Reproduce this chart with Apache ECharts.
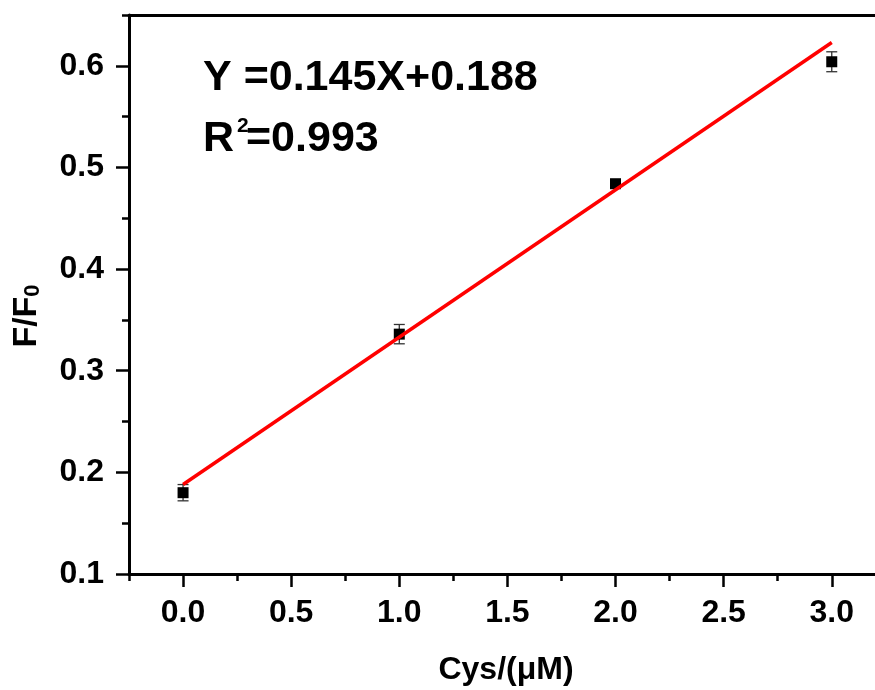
<!DOCTYPE html>
<html>
<head>
<meta charset="utf-8">
<script src="https://cdn.jsdelivr.net/npm/echarts@6/dist/echarts.min.js"></script>
<style>
  html, body { margin: 0; padding: 0; background: #fff; }
  #chart { width: 875px; height: 690px; }
</style>
</head>
<body>
<div id="chart"></div>
<script>
// Cys concentration (µM) and measured F/F0 (mean ± SD)
const cysConc = [0, 1, 2, 3];
const ratioMean = [0.180, 0.336, 0.484, 0.604];
const ratioErr = [0.008, 0.0095, 0.004, 0.0098];

// Linear fit reported on the chart
const fitSlope = 0.145;
const fitIntercept = 0.188;
const fitR2 = 0.993;
const fitRange = [0, 3];

// Axis ticks
const xMajorTicks = [0, 0.5, 1, 1.5, 2, 2.5, 3];
const xMinorTicks = [-0.25, 0.25, 0.75, 1.25, 1.75, 2.25, 2.75];
const yMajorTicks = [0.1, 0.2, 0.3, 0.4, 0.5, 0.6];
const yMinorTicks = [0.15, 0.25, 0.35, 0.45, 0.55, 0.65];

const FONT = '"Liberation Sans", Arial, Helvetica, sans-serif';
const X_MIN = -0.25, X_MAX = 3.2, Y_MIN = 0.1, Y_MAX = 0.65;

const axisLineStyle = { color: '#000', width: 3 };
const majorTickStyle = { color: '#000', width: 2.5 };
const tickLabelStyle = {
  color: '#000', fontSize: 32, fontWeight: 'bold', fontFamily: FONT,
  formatter: v => Number(v).toFixed(1)
};

const points = cysConc.map((x, i) => [x, ratioMean[i]]);
const errBars = cysConc.map((x, i) => [x, ratioMean[i] - ratioErr[i], ratioMean[i] + ratioErr[i]]);
const fitLine = fitRange.map(x => [x, fitIntercept + fitSlope * x]);

const chart = echarts.init(document.getElementById('chart'), null, { renderer: 'canvas' });

chart.setOption({
  animation: false,
  backgroundColor: '#fff',
  grid: { left: 129, right: 0, top: 15, bottom: 116, containLabel: false, outerBoundsMode: 'none' },
  xAxis: [
    {
      type: 'value', min: X_MIN, max: X_MAX, position: 'bottom',
      axisLine: { show: true, onZero: false, lineStyle: axisLineStyle },
      axisTick: { show: true, customValues: xMajorTicks, length: 13, lineStyle: majorTickStyle },
      axisLabel: Object.assign({ customValues: xMajorTicks, margin: 23 }, tickLabelStyle),
      splitLine: { show: false },
      name: 'Cys/(μM)', nameLocation: 'middle', nameGap: 80,
      nameTextStyle: { color: '#000', fontSize: 32, fontWeight: 'bold', fontFamily: FONT, padding: [0, 0, 0, 8] }
    },
    {
      type: 'value', min: X_MIN, max: X_MAX, position: 'bottom',
      axisLine: { show: false, onZero: false },
      axisTick: { show: true, customValues: xMinorTicks, length: 7, lineStyle: majorTickStyle },
      axisLabel: { show: false },
      splitLine: { show: false }
    },
    {
      type: 'value', min: X_MIN, max: X_MAX, position: 'top',
      axisLine: { show: true, onZero: false, lineStyle: axisLineStyle },
      axisTick: { show: false },
      axisLabel: { show: false },
      splitLine: { show: false }
    }
  ],
  yAxis: [
    {
      type: 'value', min: Y_MIN, max: Y_MAX, position: 'left',
      axisLine: { show: true, onZero: false, lineStyle: axisLineStyle },
      axisTick: { show: true, customValues: yMajorTicks, length: 13, lineStyle: majorTickStyle },
      axisLabel: Object.assign({ customValues: yMajorTicks, margin: 25 }, tickLabelStyle),
      splitLine: { show: false }
    },
    {
      type: 'value', min: Y_MIN, max: Y_MAX, position: 'left',
      axisLine: { show: false, onZero: false },
      axisTick: { show: true, customValues: yMinorTicks, length: 7, lineStyle: majorTickStyle },
      axisLabel: { show: false },
      splitLine: { show: false }
    }
  ],
  series: [
    {
      // error bars with caps
      type: 'custom',
      xAxisIndex: 0, yAxisIndex: 0,
      data: errBars,
      encode: { x: 0, y: [1, 2] },
      z: 2,
      renderItem: function (params, api) {
        const x = api.value(0);
        const lo = api.coord([x, api.value(1)]);
        const hi = api.coord([x, api.value(2)]);
        const cap = 5.5;
        const style = { stroke: '#333', lineWidth: 1.3, fill: null };
        return {
          type: 'group',
          children: [
            { type: 'line', shape: { x1: hi[0], y1: hi[1], x2: lo[0], y2: lo[1] }, style: style },
            { type: 'line', shape: { x1: hi[0] - cap, y1: hi[1], x2: hi[0] + cap, y2: hi[1] }, style: style },
            { type: 'line', shape: { x1: lo[0] - cap, y1: lo[1], x2: lo[0] + cap, y2: lo[1] }, style: style }
          ]
        };
      }
    },
    {
      type: 'scatter',
      xAxisIndex: 0, yAxisIndex: 0,
      data: points,
      symbol: 'rect',
      symbolSize: 11,
      itemStyle: { color: '#000', opacity: 1 },
      z: 3
    },
    {
      type: 'line',
      xAxisIndex: 0, yAxisIndex: 0,
      data: fitLine,
      showSymbol: false,
      symbol: 'none',
      lineStyle: { color: '#ff0000', width: 3.5 },
      z: 4
    }
  ],
  graphic: [
    {
      type: 'text', x: 203, y: 78, z: 10,
      style: {
        text: 'Y =' + fitSlope.toFixed(3) + 'X+' + fitIntercept.toFixed(3),
        fontSize: 43, fontWeight: 'bold', fontFamily: FONT, fill: '#000',
        align: 'left', verticalAlign: 'middle'
      }
    },
    {
      type: 'text', x: 203, y: 139, z: 10,
      style: { text: 'R', fontSize: 43, fontWeight: 'bold', fontFamily: FONT, fill: '#000', align: 'left', verticalAlign: 'middle' }
    },
    {
      type: 'text', x: 237, y: 126, z: 10,
      style: { text: '2', fontSize: 21, fontWeight: 'bold', fontFamily: FONT, fill: '#000', align: 'left', verticalAlign: 'middle' }
    },
    {
      type: 'text', x: 246, y: 139, z: 10,
      style: { text: '=' + fitR2.toFixed(3), fontSize: 43, fontWeight: 'bold', fontFamily: FONT, fill: '#000', align: 'left', verticalAlign: 'middle' }
    },
    {
      // y-axis title F/F0 with subscript
      type: 'text', x: 26.5, y: 316, rotation: Math.PI / 2, z: 10,
      style: {
        text: '{m|F/F}{s|0}',
        align: 'center', verticalAlign: 'middle',
        fill: '#000',
        rich: {
          m: { fontSize: 34, fontWeight: 'bold', fontFamily: FONT, fill: '#000', lineHeight: 34 },
          s: { fontSize: 22, fontWeight: 'bold', fontFamily: FONT, fill: '#000', verticalAlign: 'bottom' }
        }
      }
    }
  ]
});
</script>
</body>
</html>
